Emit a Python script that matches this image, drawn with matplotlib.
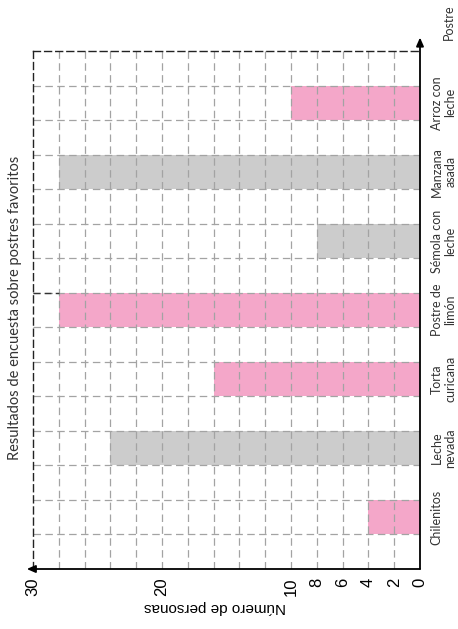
import numpy as np
import matplotlib.pyplot as plt
from matplotlib import transforms

# data (chart is drawn turned a quarter turn: categories run bottom -> top)
postres = ["Chilenitos", "Leche\nnevada", "Torta\ncuricana", "Postre de\nlimón",
           "Sémola con\nleche", "Manzana\nasada", "Arroz con\nleche"]
personas = [4, 24, 16, 28, 8, 28, 10]
colores = ["#f4a7c9", "#cccccc", "#f4a7c9", "#f4a7c9", "#cccccc", "#cccccc", "#f4a7c9"]
ticks = [0, 2, 4, 6, 8, 10, 20, 30]
grid_x = list(range(2, 30, 2))

fig = plt.figure(figsize=(4.58, 6.29), dpi=100)
ax = fig.add_axes([33/458, 1 - 569/629, 387/458, 518/629])

pos = np.arange(len(postres))
ax.barh(pos, personas, height=0.5, color=colores, zorder=1)

ax.set_xlim(30, 0)
ax.set_ylim(-0.75, len(postres) - 0.25)

# dashed grid
for gx in grid_x:
    ax.axvline(gx, color="#a3a3a3", lw=0.9, ls=(0, (6, 3.5)), zorder=2)
for gy in np.arange(-0.25, len(postres) - 0.5, 0.5):
    ax.axhline(gy, color="#a3a3a3", lw=0.9, ls=(0, (6, 3.5)), zorder=2)
ax.axhline(3.25, xmin=0, xmax=2/30, color="#333333", lw=1, ls=(0, (5, 3)), zorder=3)

for s in ["right", "bottom"]:
    ax.spines[s].set_visible(False)
for s in ["left", "top"]:
    ax.spines[s].set_linestyle((0, (5, 3)))
    ax.spines[s].set_linewidth(1)
    ax.spines[s].set_color("#222222")

# axes with arrows
ax.annotate("", xy=(1, 1.026), xytext=(1, 0), xycoords="axes fraction",
            arrowprops=dict(arrowstyle="-|>,head_length=0.5,head_width=0.22",
                            color="black", lw=1.3, shrinkA=0, shrinkB=0))
ax.annotate("", xy=(-0.016, 0), xytext=(1, 0), xycoords="axes fraction",
            arrowprops=dict(arrowstyle="-|>,head_length=0.5,head_width=0.22",
                            color="black", lw=1.3, shrinkA=0, shrinkB=0))

ax.set_xticks(ticks)
ax.set_xticklabels([str(t) for t in ticks], rotation=90, fontsize=12,
                   family="Liberation Sans")
ax.tick_params(axis="x", length=0, pad=6)
ax.set_yticks([])

# category labels on the right
trans = transforms.blended_transform_factory(ax.transAxes, ax.transData)
for p, lab in zip(pos, postres):
    ax.text(1.028, p, lab, transform=trans, rotation=90, ha="left", va="center",
            multialignment="center", fontsize=9, family="Lato",
            color="#333333", linespacing=1.15)
fig.text(449/458, 1 - 22/629, "Postre", rotation=90, ha="center", va="center",
         fontsize=9, family="Lato", color="#333333")

fig.text(15/458, 1 - 308/629, "Resultados de encuesta sobre postres favoritos",
         rotation=90, ha="center", va="center", fontsize=10.5, family="Lato",
         color="#333333")
fig.text(215/458, 1 - 607/629, "Número de personas", rotation=180,
         ha="center", va="center", fontsize=11, family="Liberation Sans")

fig.savefig("out.png", dpi=100)
